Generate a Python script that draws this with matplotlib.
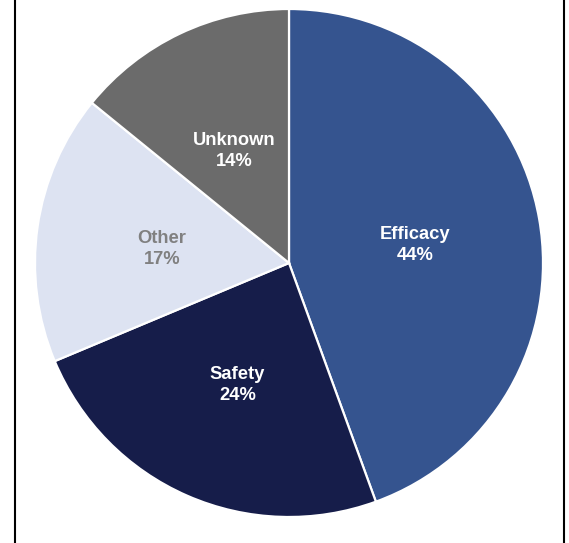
import matplotlib
matplotlib.use("Agg")
import matplotlib.pyplot as plt
from matplotlib.lines import Line2D
from matplotlib.transforms import offset_copy

categories = ["Efficacy", "Safety", "Other", "Unknown"]
shares = [44, 24, 17, 14]
colors = ["#35548F", "#161D4A", "#DDE3F2", "#6B6B6B"]
text_colors = ["white", "white", "#808080", "white"]

plt.rcParams["font.family"] = ["Liberation Sans", "DejaVu Sans"]

W, H = 569, 543
fig = plt.figure(figsize=(W / 100, H / 100), dpi=100)
cx, cy, r = 289, 263, 254
ax = fig.add_axes([(cx - r) / W, (H - cy - r) / H, 2 * r / W, 2 * r / H])

wedges, texts = ax.pie(
    shares,
    colors=colors,
    startangle=90,
    counterclock=False,
    radius=1,
    labels=[f"{c}\n{v}%" for c, v in zip(categories, shares)],
    labeldistance=0.505,
    wedgeprops=dict(edgecolor="white", linewidth=1.6),
    textprops=dict(fontsize=13.2, fontweight="bold", ha="center", va="center",
                   linespacing=1.3),
)
# nudge the two-line labels slightly downward
shifted = offset_copy(ax.transData, fig=fig, x=0, y=-3, units="points")
for t, c in zip(texts, text_colors):
    t.set_color(c)
    t.set_horizontalalignment("center")
    t.set_transform(shifted)

ax.set_xlim(-1, 1)
ax.set_ylim(-1, 1)
ax.set_aspect("equal")
ax.axis("off")

for x in (14.5, 563.5):
    fig.add_artist(Line2D([x / W, x / W], [0, 1], transform=fig.transFigure,
                          color="black", linewidth=1.5))

fig.savefig("out.png", dpi=100)
